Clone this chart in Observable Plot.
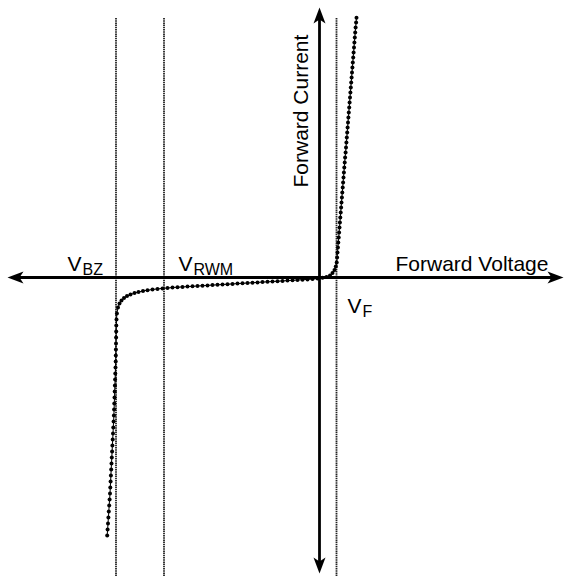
<!DOCTYPE html>
<html>
<head>
<meta charset="utf-8">
<script src="https://cdn.jsdelivr.net/npm/d3@7"></script>
<script src="https://cdn.jsdelivr.net/npm/@observablehq/plot@0.6"></script>
<style>
  html, body { margin: 0; padding: 0; background: #fff; }
  #chart svg { display: block; }
</style>
</head>
<body>
<div id="chart"></div>
<script>
// Diode I–V characteristic (arbitrary units; origin where the axes cross)
const curveV = [
  -21.23,-21.19,-21.15,-21.11,-21.07,-21.03,-20.99,-20.95,-20.92,-20.89,-20.86,-20.83,-20.80,-20.77,-20.74,-20.71,-20.68,-20.65,-20.62,-20.59,-20.56,-20.54,-20.52,-20.50,-20.48,-20.46,-20.44,-20.42,-20.40,-20.38,-20.37,-20.36,-20.35,-20.34,-20.33,-20.32,-20.30,-20.26,
  -20.15,-20.0,-19.8,-19.55,-19.25,-18.9,-18.5,-18.1,-17.65,-17.2,-16.7,-16.2,-15.7,-15.2,
  -14.7,-14.2,-13.7,-13.2,-12.7,-12.2,-11.7,-11.2,-10.7,-10.2,-9.7,-9.2,-8.7,-8.2,-7.7,-7.2,-6.7,-6.2,-5.7,-5.2,-4.7,-4.2,-3.7,-3.2,-2.7,-2.2,-1.7,-1.2,-0.7,-0.2,
  0.3,0.7,1.05,1.3,1.5,1.63,1.72,
  1.76,1.80,1.84,1.88,1.92,1.96,2.00,2.04,2.08,2.12,2.16,2.20,2.24,2.28,2.32,2.36,2.40,2.44,2.48,2.52,2.56,2.61,2.65,2.69,2.73,2.77,2.81,2.85,2.89,2.93,2.97,3.01,3.05,3.09,3.13,3.17,3.21,3.25,3.29,3.33,3.37,3.41,3.45,3.49,3.53,3.57,3.61,3.66,3.70
];
const curveI = [
  -25.8,-25.2,-24.6,-24.0,-23.4,-22.8,-22.2,-21.6,-21.0,-20.4,-19.8,-19.2,-18.6,-18.0,-17.4,-16.8,-16.2,-15.6,-15.0,-14.4,-13.8,-13.2,-12.6,-12.0,-11.4,-10.8,-10.2,-9.6,-9.0,-8.4,-7.8,-7.2,-6.6,-6.0,-5.4,-4.8,-4.2,-3.6,
  -3.0,-2.6,-2.3,-2.05,-1.85,-1.7,-1.56,-1.45,-1.35,-1.27,-1.2,-1.14,-1.09,-1.05,
  -1.00,-0.97,-0.94,-0.91,-0.88,-0.85,-0.82,-0.79,-0.76,-0.73,-0.70,-0.67,-0.64,-0.61,-0.58,-0.55,-0.52,-0.49,-0.46,-0.43,-0.40,-0.37,-0.34,-0.31,-0.28,-0.25,-0.22,-0.19,-0.15,-0.10,
  -0.03,0.05,0.2,0.45,0.75,1.1,1.5,
  2.0,2.5,3.0,3.5,4.0,4.5,5.0,5.5,6.0,6.5,7.0,7.5,8.0,8.5,9.0,9.5,10.0,10.5,11.0,11.5,12.0,12.5,13.0,13.5,14.0,14.5,15.0,15.5,16.0,16.5,17.0,17.5,18.0,18.5,19.0,19.5,20.0,20.5,21.0,21.5,22.0,22.5,23.0,23.5,24.0,24.5,25.0,25.5,25.97
];

// Reference voltages (vertical guide lines)
const refNames = ["BZ", "RWM", "F"];
const refV = [-20.35, -15.55, 1.7];

// Labels: main letter, subscript, anchor position
const labelMain = ["V", "V", "V"];
const labelSub = ["BZ", "RWM", "F"];
const labelX = [-25.2, -14.1, 2.8];
const labelY = [0.7, 0.7, -3.5];

// Axis titles
const xTitle = "Forward Voltage";
const yTitle = "Forward Current";

// Scale extents
const xDomain = [-31.9, 24.8];
const yDomain = [-29.9, 27.7];
const axisXEnds = [-31.2, 24.4];
const axisYEnds = [-29.6, 27.0];
const refTop = 25.9;

const curve = curveV.map((v, i) => ({v, i: curveI[i]}));
const labels = labelMain.map((m, k) => ({m, s: labelSub[k], x: labelX[k], y: labelY[k]}));

const head = (pts) => ({draw(ctx) {
  ctx.moveTo(pts[0][0], pts[0][1]);
  for (let k = 1; k < pts.length; ++k) ctx.lineTo(pts[k][0], pts[k][1]);
  ctx.closePath();
}});
const L = 16, W = 6, N = 12;
const headRight = head([[0,0],[-L,-W],[-N,0],[-L,W]]);
const headLeft  = head([[0,0],[L,-W],[N,0],[L,W]]);
const headUp    = head([[0,0],[-W,L],[0,N],[W,L]]);
const headDown  = head([[0,0],[-W,-L],[0,-N],[W,-L]]);

const font = "'Liberation Sans', Arial, Helvetica, sans-serif";

const chart = Plot.plot({
  width: 567,
  height: 576,
  margin: 0,
  x: {domain: xDomain, axis: null},
  y: {domain: yDomain, axis: null},
  style: {background: "#fff", fontFamily: font},
  marks: [
    Plot.ruleX(refV, {y1: refTop, y2: yDomain[0], stroke: "#222", strokeWidth: 1.8, strokeDasharray: "1.5,0.7"}),
    Plot.ruleY([0], {x1: axisXEnds[0] + 0.8, x2: axisXEnds[1] - 0.8, stroke: "#000", strokeWidth: 2.8}),
    Plot.ruleX([0], {y1: axisYEnds[0] + 0.8, y2: axisYEnds[1] - 0.8, stroke: "#000", strokeWidth: 2.8}),
    Plot.dot([[axisXEnds[1], 0]], {x: d => d[0], y: d => d[1], symbol: headRight, fill: "#000", stroke: "none"}),
    Plot.dot([[axisXEnds[0], 0]], {x: d => d[0], y: d => d[1], symbol: headLeft, fill: "#000", stroke: "none"}),
    Plot.dot([[0, axisYEnds[1]]], {x: d => d[0], y: d => d[1], symbol: headUp, fill: "#000", stroke: "none"}),
    Plot.dot([[0, axisYEnds[0]]], {x: d => d[0], y: d => d[1], symbol: headDown, fill: "#000", stroke: "none"}),
    Plot.line(curve, {x: "v", y: "i", stroke: "#000", strokeWidth: 1, curve: "linear"}),
    Plot.dot(curve, {x: "v", y: "i", r: 2, fill: "#000", stroke: "none"}),
    Plot.text(labels, {x: "x", y: "y", text: "m", textAnchor: "start", lineAnchor: "bottom", fontSize: 21, fill: "#000"}),
    Plot.text(labels, {x: "x", y: "y", text: "s", textAnchor: "start", lineAnchor: "bottom", fontSize: 16, dx: 15, dy: 4, fill: "#000"}),
    Plot.text([xTitle], {x: 7.6, y: 0.7, text: d => d, textAnchor: "start", lineAnchor: "bottom", fontSize: 21, fill: "#000"}),
    Plot.text([yTitle], {x: -1.2, y: 9.0, text: d => d, rotate: -90, textAnchor: "start", lineAnchor: "bottom", fontSize: 21, fill: "#000"})
  ]
});
document.getElementById("chart").appendChild(chart);
</script>
</body>
</html>
